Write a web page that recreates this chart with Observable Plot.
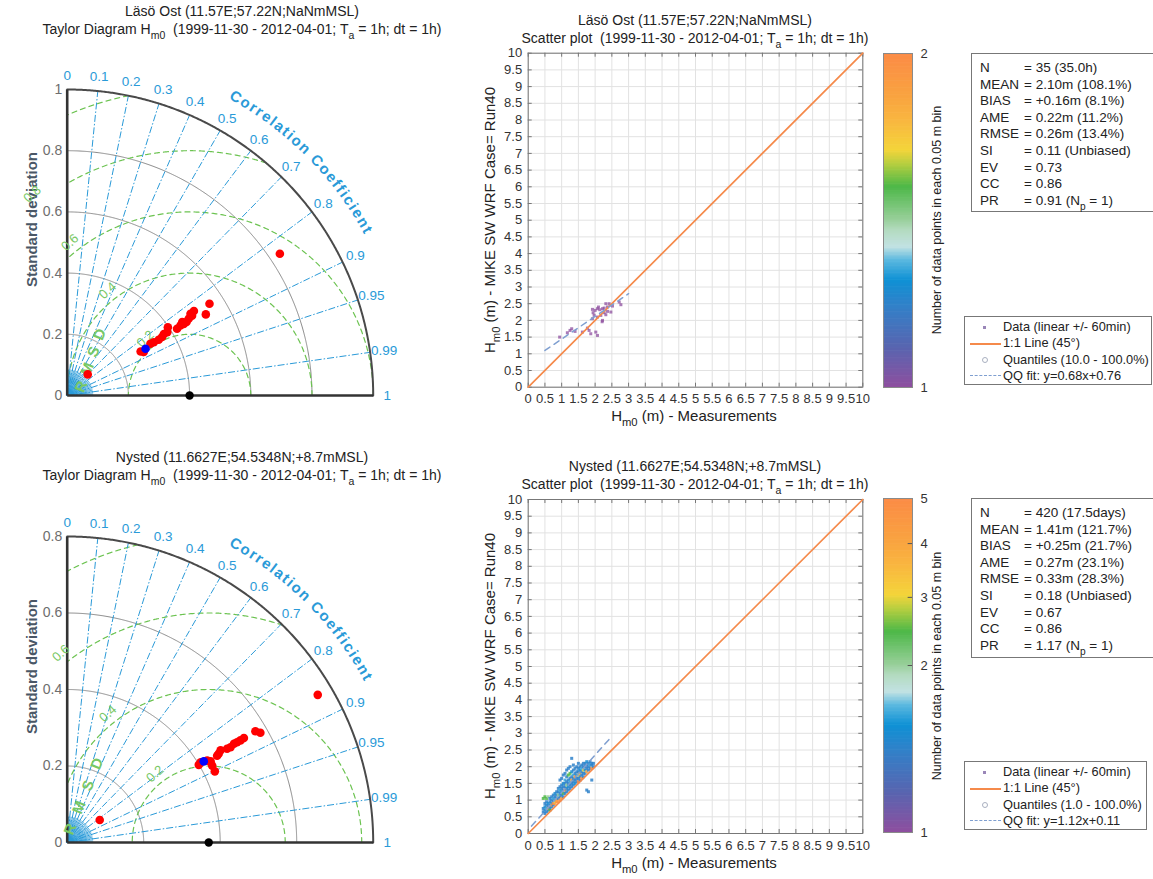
<!DOCTYPE html>
<html><head><meta charset="utf-8">
<script src="https://cdn.jsdelivr.net/npm/d3@7"></script>
<script src="https://cdn.jsdelivr.net/npm/@observablehq/plot@0.6"></script>
<style>
html,body{margin:0;padding:0;background:#fff;}
#root{position:relative;width:1153px;height:879px;overflow:hidden;font-family:"Liberation Sans",Arial,sans-serif;color:#222;}
.ttl{position:absolute;transform:translateX(-50%);text-align:center;white-space:nowrap;font-size:14px;line-height:18px;color:#222;}
sub{font-size:75%;vertical-align:-0.45em;line-height:0;}
.rot{position:absolute;white-space:nowrap;transform:translate(-50%,-50%) rotate(-90deg);color:#222;}
.xl{position:absolute;white-space:nowrap;transform:translate(-50%,-50%);font-size:15px;color:#222;}
.stats{position:absolute;border:1px solid #777;background:#fff;font-size:13.5px;line-height:16.6px;padding:6px 0 0 8px;box-sizing:border-box;}
.stats .r{white-space:nowrap;}
.stats .k{display:inline-block;width:44px;}
.leg{position:absolute;border:1px solid #777;background:#fff;font-size:12.8px;line-height:16.4px;box-sizing:border-box;padding:2px 0 0 0;}
.leg .r{position:relative;padding-left:38px;white-space:nowrap;}
.leg .m{position:absolute;left:5px;top:50%;width:31px;height:0;}
</style></head><body><div id="root"></div>
<script>
// ======================= DATA =======================
// --- Taylor diagram, Läsö Ost ---
const lasoRefStd = 0.40;
const lasoRunsX = [0.465,0.453,0.414,0.403,0.408,0.397,0.390,0.381,0.376,0.370,0.359,0.329,0.327,0.316,0.310,0.299,0.283,0.272,0.250,0.240,0.695,0.067];
const lasoRunsY = [0.300,0.265,0.276,0.267,0.261,0.251,0.240,0.234,0.240,0.229,0.218,0.223,0.207,0.201,0.191,0.182,0.174,0.169,0.142,0.144,0.463,0.069];
const lasoBest = [0.256, 0.153];
const lasoStdTicks = [0,0.2,0.4,0.6,0.8,1];
const lasoRmsd = [0.2,0.4,0.6,0.8,1.0];
const lasoRmsdLabels = [0.2,0.4,0.6,0.8];
// --- Taylor diagram, Nysted ---
const nysRefStd = 0.37;
const nysRunsX = [0.492,0.505,0.462,0.453,0.444,0.436,0.427,0.418,0.401,0.396,0.392,0.375,0.379,0.386,0.366,0.349,0.344,0.655,0.085];
const nysRunsY = [0.291,0.287,0.273,0.267,0.262,0.258,0.249,0.245,0.241,0.232,0.227,0.212,0.201,0.186,0.214,0.210,0.203,0.386,0.059];
const nysBest = [0.357, 0.212];
const nysStdTicks = [0,0.2,0.4,0.6,0.8];
const nysRmsd = [0.2,0.4,0.6,0.8];
const nysRmsdLabels = [0.2,0.4,0.6];
// correlation coefficient ticks (shared)
const corrTicks = [0,0.1,0.2,0.3,0.4,0.5,0.6,0.7,0.8,0.9,0.95,0.99,1];

// --- Scatter, Läsö Ost (measured, modelled) ---
const lasoMeas = [0.94,1.17,1.25,1.30,1.40,1.62,1.77,1.82,1.87,2.02,2.07,1.92,1.94,2.00,2.07,2.14,2.22,2.27,2.37,2.32,2.42,2.52,2.17,2.07,2.22,2.27,2.37,2.72,2.77,1.92,1.97,2.10,2.47,2.32,2.21];
const lasoModel = [1.50,1.63,1.70,1.75,1.67,1.65,1.77,1.70,1.60,1.65,1.55,2.05,2.23,2.30,2.35,2.32,2.35,2.37,2.40,2.50,2.50,2.43,2.15,2.10,2.00,2.23,2.27,2.55,2.47,2.33,2.15,2.40,2.25,2.17,1.96];
const lasoCount = lasoMeas.map(() => 1);
const lasoQQ = {slope:0.68, intercept:0.76, from:0.5, to:3.0};
const lasoCbTicks = [1,2];

// --- Scatter, Nysted: [measured, modelled, points per 0.05 m bin] ---
const nysBins = [
[0.45,0.65,1.5],[0.45,0.75,1.5],[0.45,1.05,2.5],
[0.5,0.6,1.5],[0.5,0.7,1.5],[0.5,0.8,1.6],[0.5,1.1,2.5],[0.5,0.9,1.5],
[0.55,0.65,1.5],[0.55,0.75,1.7],[0.55,0.85,1.5],[0.55,1.05,2.5],[0.55,0.95,1.5],
[0.6,0.7,1.5],[0.6,0.8,1.5],[0.6,0.9,1.6],[0.6,1.1,2.0],[0.6,0.75,4.0],
[0.65,0.75,1.5],[0.65,0.85,1.5],[0.65,0.95,1.5],[0.65,1.05,1.5],[0.65,0.7,2.5],
[0.7,0.8,1.5],[0.7,0.9,1.6],[0.7,1.0,1.5],[0.7,1.1,1.5],[0.7,0.85,4.5],
[0.75,0.85,1.5],[0.75,0.95,1.5],[0.75,1.05,1.7],[0.75,1.15,1.5],[0.75,0.9,5.0],
[0.8,0.9,4.5],[0.8,1.0,1.5],[0.8,1.1,1.5],[0.8,1.2,1.6],[0.8,0.95,3.0],
[0.85,0.95,5.0],[0.85,1.05,1.6],[0.85,1.15,1.5],[0.85,1.25,1.5],[0.85,1.0,4.0],
[0.9,0.95,4.5],[0.9,1.05,1.5],[0.9,1.15,2.0],[0.9,1.25,1.5],[0.9,1.35,1.5],
[0.95,1.0,5.0],[0.95,1.1,1.5],[0.95,1.2,1.5],[0.95,1.3,1.7],[0.95,1.4,1.5],[0.95,1.6,1.5],
[1.0,1.05,4.0],[1.0,1.15,1.5],[1.0,1.25,1.6],[1.0,1.35,1.5],[1.0,1.45,1.5],[1.0,1.65,1.5],
[1.05,1.1,1.5],[1.05,1.2,2.5],[1.05,1.3,1.5],[1.05,1.4,1.5],[1.05,1.5,1.6],[1.05,1.75,1.5],
[1.1,1.2,1.5],[1.1,1.3,4.5],[1.1,1.4,1.5],[1.1,1.5,1.5],[1.1,1.6,1.7],[1.1,1.8,1.5],
[1.15,1.25,1.5],[1.15,1.35,1.5],[1.15,1.45,2.0],[1.15,1.55,1.5],[1.15,1.7,1.5],[1.15,1.9,1.5],
[1.2,1.3,1.5],[1.2,1.4,1.6],[1.2,1.5,1.5],[1.2,1.6,1.5],[1.2,1.75,2.5],[1.2,1.95,1.5],
[1.25,1.35,1.5],[1.25,1.45,1.5],[1.25,1.55,1.7],[1.25,1.65,1.5],[1.25,1.8,2.5],[1.25,2.0,1.5],
[1.3,1.4,1.5],[1.3,1.5,1.5],[1.3,1.6,4.0],[1.3,1.7,1.5],[1.3,1.85,1.6],[1.3,2.25,1.5],
[1.35,1.45,1.5],[1.35,1.55,1.5],[1.35,1.65,1.5],[1.35,1.75,1.7],[1.35,1.9,1.5],[1.35,2.05,1.5],
[1.4,1.5,1.6],[1.4,1.6,1.5],[1.4,1.7,4.5],[1.4,1.8,1.5],[1.4,1.95,1.5],
[1.45,1.55,1.5],[1.45,1.65,1.5],[1.45,1.75,1.6],[1.45,1.85,1.5],[1.45,2.0,1.5],
[1.5,1.55,5.0],[1.5,1.65,1.5],[1.5,1.75,3.0],[1.5,1.85,1.5],[1.5,1.95,1.5],[1.5,2.1,1.5],
[1.55,1.6,1.5],[1.55,1.7,1.5],[1.55,1.8,4.0],[1.55,1.9,1.6],[1.55,2.0,1.5],
[1.6,1.65,4.5],[1.6,1.75,1.5],[1.6,1.85,1.5],[1.6,1.95,1.7],[1.6,2.05,1.5],
[1.65,1.7,1.5],[1.65,1.8,1.5],[1.65,1.9,3.0],[1.65,2.0,1.5],[1.65,2.1,1.5],
[1.7,1.8,1.5],[1.7,1.9,1.6],[1.7,2.0,1.5],[1.7,2.1,1.5],
[1.75,1.85,4.0],[1.75,1.95,1.5],[1.75,2.05,1.5],[1.75,2.15,1.6],[1.75,1.3,1.5],
[1.8,1.9,1.5],[1.8,2.0,1.5],[1.8,2.1,1.5],[1.8,1.25,1.5],
[1.85,1.95,1.5],[1.85,2.05,1.7],[1.85,2.15,1.5],
[1.9,1.95,4.5],[1.9,2.05,1.5],[1.9,2.1,1.5],[1.9,1.6,1.5],
[1.95,2.0,1.5],[1.95,2.1,1.5]
];
const nysQQ = {slope:1.12, intercept:0.11, from:0.1, to:2.5};
const nysCbTicks = [1,2,3,4,5];

// --- Statistics tables ---
const statKeys = ["N","MEAN","BIAS","AME","RMSE","SI","EV","CC","PR"];
const lasoStats = ["= 35 (35.0h)","= 2.10m (108.1%)","= +0.16m (8.1%)","= 0.22m (11.2%)","= 0.26m (13.4%)","= 0.11 (Unbiased)","= 0.73","= 0.86","= 0.91 (N<sub>p</sub> = 1)"];
const nysStats = ["= 420 (17.5days)","= 1.41m (121.7%)","= +0.25m (21.7%)","= 0.27m (23.1%)","= 0.33m (28.3%)","= 0.18 (Unbiased)","= 0.67","= 0.86","= 1.17 (N<sub>p</sub> = 1)"];
const lasoLegend = ["Data (linear +/- 60min)","1:1 Line (45°)","Quantiles (10.0 - 100.0%)","QQ fit: y=0.68x+0.76"];
const nysLegend = ["Data (linear +/- 60min)","1:1 Line (45°)","Quantiles (1.0 - 100.0%)","QQ fit: y=1.12x+0.11"];

// ======================= RENDER =======================
const FONT = '"Liberation Sans", Arial, Helvetica, sans-serif';
const BLUE = "#2a9ad8", GREEN = "#6cc351", GREENTXT = "#78c865", ORANGE = "#f58a4b";
const root = document.getElementById("root");
function place(el, left, top, w){
  const d = document.createElement("div");
  d.style.cssText = `position:absolute;left:${left}px;top:${top}px;width:${w}px;`;
  el.style.maxWidth = "none"; el.style.display = "block";
  d.appendChild(el); root.appendChild(d);
}
function html(s, cls, css){
  const d = document.createElement("div"); d.className = cls; d.style.cssText = css; d.innerHTML = s; root.appendChild(d); return d;
}
const ctx = document.createElement("canvas").getContext("2d");
ctx.font = 'bold 15px "Liberation Sans"';

const cmapStops = [[0,"#8e4f9f"],[0.12,"#5865b0"],[0.24,"#3380c8"],[0.32,"#0f91d5"],[0.38,"#5ab8df"],[0.42,"#c2e2e3"],[0.47,"#b3dbbf"],[0.5,"#99cf9b"],[0.6,"#4db848"],[0.67,"#b9cf3f"],[0.71,"#f4d43a"],[0.8,"#f9b640"],[0.865,"#f9a540"],[1,"#fb8b46"]];
const cmap = d3.scaleLinear().domain(cmapStops.map(d=>d[0])).range(cmapStops.map(d=>d[1])).interpolate(d3.interpolateRgb).clamp(true);

function taylor(o){
  const R = o.R, S = 306, ox = 66.7, oy = o.oy, rad = Math.PI/180;
  const pol = (r,a) => ({x: r*Math.cos(a*rad), y: r*Math.sin(a*rad)});
  const arc = r => d3.range(0, 90.25, 0.25).map(a => pol(r,a));
  const marks = [];
  o.stdTicks.filter(v => v > 0 && v < R - 1e-9).forEach(r =>
    marks.push(Plot.line(arc(r), {x:"x", y:"y", stroke:"#8a8a8a", strokeWidth:1})));
  o.rmsd.forEach(rr => {
    const ref = o.ref;
    const p0 = Math.acos(Math.max(-1, Math.min(1, (R*R - ref*ref - rr*rr)/(2*ref*rr))));
    const p1 = Math.acos(Math.max(-1, Math.min(1, -ref/rr)));
    if (p1 <= p0) return;
    const pts = d3.range(0, 301).map(i => { const p = p0 + (p1-p0)*i/300; return {x: ref + rr*Math.cos(p), y: rr*Math.sin(p)}; });
    marks.push(Plot.line(pts, {x:"x", y:"y", stroke:GREEN, strokeWidth:1.2, strokeDasharray:"5,4"}));
  });
  // fine fan near the origin
  const fan = d3.range(3, 90, 3);
  marks.push(Plot.link(fan, {x1:()=>0, y1:()=>0, x2:a=>pol(0.085*R,a).x, y2:a=>pol(0.085*R,a).y, stroke:BLUE, strokeWidth:0.8}));
  marks.push(Plot.link(corrTicks.filter(c => c > 0 && c < 1), {x1:()=>0, y1:()=>0, x2:c=>R*c, y2:c=>R*Math.sqrt(1-c*c), stroke:BLUE, strokeWidth:1, strokeDasharray:"7,2,1.5,2"}));
  marks.push(Plot.line(arc(R), {x:"x", y:"y", stroke:"#4a4a4a", strokeWidth:2}));
  marks.push(Plot.link([0], {x1:()=>0, y1:()=>0, x2:()=>0, y2:()=>R, stroke:"#333", strokeWidth:2.6}));
  marks.push(Plot.link([0], {x1:()=>0, y1:()=>0, x2:()=>R, y2:()=>0, stroke:"#333", strokeWidth:2.6}));
  // labels
  marks.push(Plot.text(corrTicks, {x:c=>1.046*R*c, y:c=>1.046*R*Math.sqrt(1-c*c), text:c=>String(c), fill:BLUE, fontSize:13.5}));
  marks.push(Plot.text(o.stdTicks, {x:()=>0, y:d=>d, text:d=>String(d), dx:-5, textAnchor:"end", fill:"#6e6e6e", fontSize:14}));
  marks.push(Plot.text(["Standard deviation"], {x:()=>-0.113*R, y:()=>0.575*R, text:d=>d, rotate:-90, fill:"#4a5766", fontSize:15, fontWeight:"bold"}));
  // curved "Correlation Coefficient"
  const word = [..."Correlation Coefficient"];
  const rr = 1.12*R, rpx = 1.12*S;
  const ws = word.map(ch => ctx.measureText(ch).width);
  const span = (61.5 - 28.5)*rad*rpx;
  const sp = (span - d3.sum(ws))/(word.length - 1);
  let cum = 0;
  const letters = word.map((ch,i) => { const c = cum + ws[i]/2; cum += ws[i] + sp; const a = 61.5 - c/rpx/rad; return {ch, a}; });
  marks.push(Plot.text(letters, {x:d=>pol(rr,d.a).x, y:d=>pol(rr,d.a).y, text:"ch", rotate:d=>90-d.a, fill:BLUE, fontSize:15, fontWeight:"bold"}));
  // RMSD labels
  marks.push(Plot.text(o.rmsdLabels, {x:r=>o.ref+(r+0.035*R)*Math.cos(128*rad), y:r=>(r+0.035*R)*Math.sin(128*rad), text:r=>String(r), rotate:-42, fill:GREENTXT, fontSize:13}));
  const rl = [..."RMSD"].map((ch,i) => ({ch, x:o.rmsdA[0]+(o.rmsdB[0]-o.rmsdA[0])*i/3, y:o.rmsdA[1]+(o.rmsdB[1]-o.rmsdA[1])*i/3}));
  marks.push(Plot.text(rl, {x:"x", y:"y", text:"ch", rotate:-68, fill:GREENTXT, fontSize:15, fontWeight:"bold"}));
  // points
  marks.push(Plot.dot([o.ref], {x:d=>d, y:()=>0, fill:"black", r:4.2}));
  marks.push(Plot.dot(o.runsX.map((x,i)=>({x, y:o.runsY[i]})), {x:"x", y:"y", fill:"#ff0000", r:4.3}));
  marks.push(Plot.dot([o.best], {x:d=>d[0], y:d=>d[1], fill:"#0000ff", r:4.3}));
  return Plot.plot({
    width:460, height:o.h,
    x:{domain:[0,R], range:[ox, ox+S], axis:null},
    y:{domain:[0,R], range:[oy, oy-S], axis:null},
    style:{fontFamily:FONT, background:"transparent"},
    marks
  });
}

function scatter(o){
  const ticks = d3.range(0, 10.001, 0.5);
  const fmt = d => String(+d.toFixed(1));
  const mb = 380 - o.mt - 334;
  const qq = [o.qq.from, o.qq.to].map(x => ({x, y:o.qq.slope*x + o.qq.intercept}));
  return Plot.plot({
    width:420, height:380, marginLeft:67.7, marginRight:17.7, marginTop:o.mt, marginBottom:mb,
    x:{domain:[0,10]}, y:{domain:[0,10]},
    style:{fontFamily:FONT, fontSize:"13px", color:"#333", background:"transparent"},
    marks:[
      Plot.gridX(ticks, {stroke:"#e2e2e2", strokeOpacity:1}),
      Plot.gridY(ticks, {stroke:"#e2e2e2", strokeOpacity:1}),
      Plot.axisX(ticks, {tickFormat:fmt, tickSize:0, tickPadding:7, label:null, fontSize:13}),
      Plot.axisY(ticks, {tickFormat:fmt, tickSize:0, tickPadding:6, label:null, fontSize:13}),
      Plot.ruleX(ticks, {x:d=>d, y1:()=>0, y2:()=>0.12, stroke:"#777"}),
      Plot.ruleX(ticks, {x:d=>d, y1:()=>9.88, y2:()=>10, stroke:"#777"}),
      Plot.ruleY(ticks, {y:d=>d, x1:()=>0, x2:()=>0.12, stroke:"#777"}),
      Plot.ruleY(ticks, {y:d=>d, x1:()=>9.88, x2:()=>10, stroke:"#777"}),
      Plot.frame({stroke:"#777"}),
      Plot.dot(o.pts, {x:"x", y:"y", fill:d=>cmap(o.frac(d.c)), symbol:"square", r:1.7, fillOpacity:o.op}),
      Plot.line([0,10], {x:d=>d, y:d=>d, stroke:ORANGE, strokeWidth:1.7}),
      Plot.line(qq, {x:"x", y:"y", stroke:"#7f9fd0", strokeWidth:1.5, strokeDasharray:"6,5"})
    ]
  });
}

function colorbar(o){
  const n = 240, steps = d3.range(n).map(i => i/n);
  const mb = 380 - o.mt - 334;
  return Plot.plot({
    width:80, height:380, marginLeft:13, marginRight:38, marginTop:o.mt, marginBottom:mb,
    x:{domain:[0,1], axis:null}, y:{domain:[0,1], axis:null},
    style:{fontFamily:FONT, background:"transparent"},
    marks:[
      Plot.rect(steps, {x1:()=>0, x2:()=>1, y1:d=>d, y2:d=>Math.min(1, d+1/n+0.002), fill:d=>cmap(d+0.5/n)}),
      Plot.frame({stroke:"#8a8a8a"}),
      Plot.ruleY(o.fr.slice(1,-1), {y:d=>d, x1:()=>0.85, x2:()=>1, stroke:"#555"}),
      Plot.text(o.fr, {x:()=>1, y:d=>d, text:(d,i)=>String(o.labels[i]), dx:8, textAnchor:"start", fontSize:13, fill:"#333"})
    ]
  });
}

// ---- Taylor diagrams
place(taylor({R:1, oy:395, h:440, ref:lasoRefStd, runsX:lasoRunsX, runsY:lasoRunsY, best:lasoBest, stdTicks:lasoStdTicks, rmsd:lasoRmsd, rmsdLabels:lasoRmsdLabels, rmsdA:[0.046,0.029], rmsdB:[0.107,0.2]}), 0, 0, 460);
place(taylor({R:0.8, oy:402, h:439, ref:nysRefStd, runsX:nysRunsX, runsY:nysRunsY, best:nysBest, stdTicks:nysStdTicks, rmsd:nysRmsd, rmsdLabels:nysRmsdLabels, rmsdA:[0.008,0.035], rmsdB:[0.078,0.206]}), 0, 440, 460);

// ---- Scatter plots
const lasoFrac = d3.scaleLinear().domain(lasoCbTicks).range([0,1]).clamp(true);
const nysFracs = [0,0.5,0.704,0.865,1];
const nysFrac = d3.scaleLinear().domain(nysCbTicks).range(nysFracs).clamp(true);
place(scatter({mt:12.7, pts:lasoMeas.map((x,i)=>({x, y:lasoModel[i], c:lasoCount[i]})), frac:lasoFrac, qq:lasoQQ, op:0.75}), 460, 40, 420);
place(scatter({mt:19, pts:nysBins.map(d=>({x:d[0], y:d[1], c:d[2]})), frac:nysFrac, qq:nysQQ, op:0.85}), 460, 480, 420);
place(colorbar({mt:13, fr:[0,1], labels:lasoCbTicks}), 870, 40, 80);
place(colorbar({mt:18, fr:nysFracs, labels:nysCbTicks}), 870, 480, 80);

// ---- Titles and axis labels
html("Läsö Ost (11.57E;57.22N;NaNmMSL)<br>Taylor Diagram H<sub>m0</sub>&nbsp;&nbsp;(1999-11-30 - 2012-04-01; T<sub>a</sub> = 1h; dt = 1h)", "ttl", "left:242px;top:2px;");
html("Nysted (11.6627E;54.5348N;+8.7mMSL)<br>Taylor Diagram H<sub>m0</sub>&nbsp;&nbsp;(1999-11-30 - 2012-04-01; T<sub>a</sub> = 1h; dt = 1h)", "ttl", "left:242px;top:448px;");
html("Läsö Ost (11.57E;57.22N;NaNmMSL)<br>Scatter plot&nbsp;&nbsp;(1999-11-30 - 2012-04-01; T<sub>a</sub> = 1h; dt = 1h)", "ttl", "left:695px;top:11px;");
html("Nysted (11.6627E;54.5348N;+8.7mMSL)<br>Scatter plot&nbsp;&nbsp;(1999-11-30 - 2012-04-01; T<sub>a</sub> = 1h; dt = 1h)", "ttl", "left:695px;top:457px;");
for (const cy of [220, 666]) {
  html("H<sub>m0</sub> (m) - MIKE SW WRF Case= Run40", "rot", `left:489px;top:${cy}px;font-size:15px;`);
  html("Number of data points in each 0.05 m bin", "rot", `left:937px;top:${cy}px;font-size:12.5px;`);
}
html("H<sub>m0</sub> (m) - Measurements", "xl", "left:694px;top:415px;");
html("H<sub>m0</sub> (m) - Measurements", "xl", "left:694px;top:862px;");

// ---- Stats boxes
function stats(vals, left, top, h){
  html(statKeys.map((k,i)=>`<div class="r"><span class="k">${k}</span>${vals[i]}</div>`).join(""), "stats", `left:${left}px;top:${top}px;width:200px;height:${h}px;`);
}
stats(lasoStats, 971, 53, 159);
stats(nysStats, 971, 498, 160);
function legend(items, left, top, w, h){
  const m = [
    `<span class="m" style="left:18px;width:3px;height:3px;margin-top:-1px;background:#9a86b8;"></span>`,
    `<span class="m" style="border-top:2px solid ${ORANGE};margin-top:-1px;"></span>`,
    `<span class="m" style="left:17px;width:4px;height:4px;margin-top:-3px;border:1px solid #a9b0c0;border-radius:50%;"></span>`,
    `<span class="m" style="border-top:1.5px dashed #7f9fd0;margin-top:-1px;"></span>`
  ];
  html(items.map((t,i)=>`<div class="r">${m[i]}${t}</div>`).join(""), "leg", `left:${left}px;top:${top}px;width:${w}px;height:${h}px;`);
}
legend(lasoLegend, 964, 316, 188, 69);
legend(nysLegend, 964, 761, 183, 69);
</script></body></html>
